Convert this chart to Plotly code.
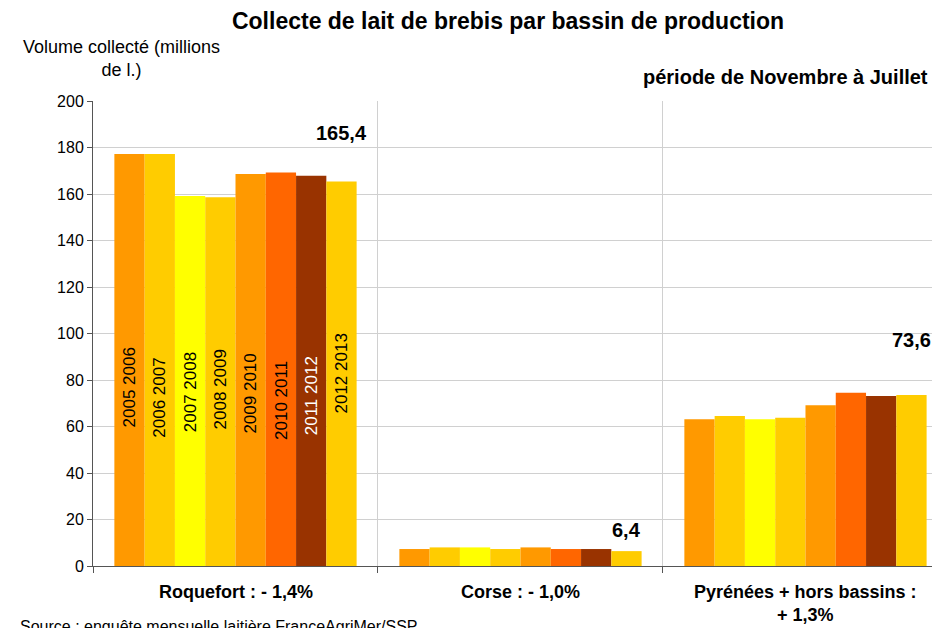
import plotly.graph_objects as go

# Data
bassins = ["Roquefort : - 1,4%", "Corse : - 1,0%", "Pyrénées + hors bassins :<br>+ 1,3%"]
campagnes = ["2005 2006", "2006 2007", "2007 2008", "2008 2009",
             "2009 2010", "2010 2011", "2011 2012", "2012 2013"]
roquefort = [177.2, 177.2, 159.1, 158.6, 168.6, 169.3, 167.9, 165.4]
corse = [7.3, 8.0, 8.0, 7.3, 8.0, 7.3, 7.3, 6.4]
pyrenees = [63.1, 64.5, 63.1, 63.8, 69.1, 74.5, 73.1, 73.6]
derniere_valeur = ["165,4", "6,4", "73,6"]

colors = ["#FF9900", "#FFCC00", "#FFFF00", "#FFCC00",
          "#FF9900", "#FF6600", "#993300", "#FFCC00"]
label_colors = ["black"] * 6 + ["white", "black"]
label_height = [76.6, 72.3, 74.8, 76.1, 74.0, 71.4, 73.1, 83.0]
value_shift = [48, 21, 55]

FONT = "Arial, Liberation Sans, sans-serif"
BARGAP = 0.15
n = len(campagnes)
bar_w = (1 - BARGAP) / n

x_pos = list(range(len(bassins)))
fig = go.Figure()
for i, camp in enumerate(campagnes):
    fig.add_trace(go.Bar(
        x=x_pos,
        y=[roquefort[i], corse[i], pyrenees[i]],
        name=camp,
        marker=dict(color=colors[i], line=dict(width=0)),
        showlegend=False,
    ))

annotations = []
# year labels inside the Roquefort bars
for i, camp in enumerate(campagnes):
    annotations.append(dict(
        x=0 + (i - (n - 1) / 2) * bar_w, y=label_height[i],
        xref="x", yref="y", text=camp, showarrow=False, textangle=-90,
        font=dict(family=FONT, size=17, color=label_colors[i]),
    ))

# last campaign values above the bars
last = [roquefort[-1], corse[-1], pyrenees[-1]]
for j, txt in enumerate(derniere_valeur):
    annotations.append(dict(
        x=j + (n - 1 - (n - 1) / 2) * bar_w, y=last[j], yshift=value_shift[j],
        xref="x", yref="y", text="<b>%s</b>" % txt, showarrow=False,
        font=dict(family=FONT, size=20, color="black"),
    ))

# category labels
for j, b in enumerate(bassins):
    annotations.append(dict(
        x=j, y=0, xref="x", yref="paper", yanchor="top", yshift=-14,
        text="<b>%s</b>" % b, showarrow=False,
        font=dict(family=FONT, size=18, color="black"),
    ))

annotations += [
    dict(xref="paper", yref="paper", x=0.034, y=1.092, xanchor="center",
         yanchor="middle", text="Volume collecté (millions<br>de l.)",
         showarrow=False, align="center",
         font=dict(family=FONT, size=18, color="black")),
    dict(xref="paper", yref="paper", x=0.988, y=1.052, xanchor="right",
         yanchor="middle", text="<b>période de Novembre à Juillet</b>",
         showarrow=False, font=dict(family=FONT, size=20, color="black")),
    dict(xref="paper", yref="paper", x=-0.0885, y=-0.13, xanchor="left",
         yanchor="middle", text="Source : enquête mensuelle laitière FranceAgriMer/SSP",
         showarrow=False, font=dict(family=FONT, size=16, color="black")),
]

# page body adds an 8px margin, so the figure is drawn 8px smaller
fig.update_layout(
    width=932, height=620,
    margin=dict(l=85, r=0, t=93, b=62),
    paper_bgcolor="white", plot_bgcolor="white",
    barmode="group", bargap=BARGAP, bargroupgap=0,
    title=dict(text="<b>Collecte de lait de brebis par bassin de production</b>",
               x=0.5365, xanchor="center", y=0.979, yanchor="middle",
               font=dict(family=FONT, size=23, color="black")),
    font=dict(family=FONT, size=16, color="black"),
    annotations=annotations,
)

fig.update_xaxes(
    range=[-0.5, 2.472],
    tickvals=[-0.5, 0.5, 1.5, 2.5], ticktext=["", "", "", ""],
    ticks="outside", ticklen=6, tickcolor="#555555",
    showgrid=True, gridcolor="#D0D0D0", gridwidth=1,
    showline=True, linecolor="#555555", linewidth=1,
    zeroline=False,
)
fig.update_yaxes(
    range=[0, 200], tickvals=list(range(0, 201, 20)),
    ticks="outside", ticklen=5, tickcolor="#555555",
    showgrid=True, gridcolor="#D0D0D0", gridwidth=1,
    showline=True, linecolor="#555555", linewidth=1,
    zeroline=False, tickfont=dict(family=FONT, size=16, color="black"),
)

fig.write_html("out.html")
